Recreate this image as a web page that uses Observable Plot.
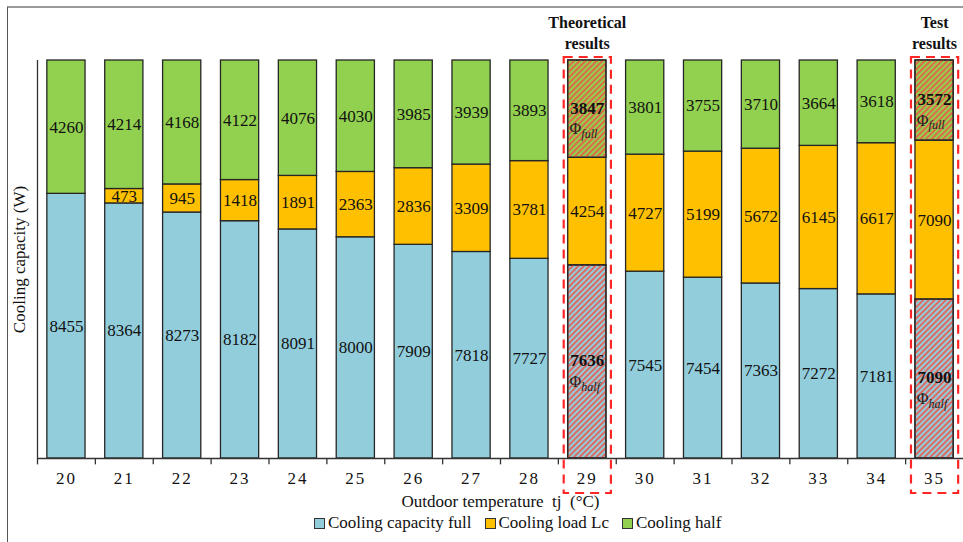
<!DOCTYPE html>
<html>
<head>
<meta charset="utf-8">
<script src="https://cdn.jsdelivr.net/npm/d3@7"></script>
<script src="https://cdn.jsdelivr.net/npm/@observablehq/plot@0.6"></script>
<style>
  html, body { margin: 0; padding: 0; background: #fff; }
  #wrap { position: relative; width: 963px; height: 542px; overflow: hidden; font-family: "Liberation Serif", "Times New Roman", serif; }
  #frame { position: absolute; left: 7px; top: 6px; right: -5px; bottom: -5px; border-top: 2px solid #9a9a9a; border-left: 1.5px solid #555; pointer-events: none; }
  #chart { position: absolute; left: 0; top: 0; }
  #chart svg text { font-family: "Liberation Serif", "Times New Roman", serif; }
  #chart svg g[aria-label="x-axis tick label"] text { letter-spacing: 2px; }
  #legend { position: absolute; left: 314px; top: 513px; display: flex; align-items: center; font-size: 17px; color: #111; white-space: nowrap; }
  #legend .sw { width: 9px; height: 9px; border: 1.2px solid #333; margin-right: 3px; }
  #legend .it { display: flex; align-items: center; margin-right: 13px; }
</style>
</head>
<body>
<div id="wrap">
  <div id="chart"></div>
  <div id="legend"></div>
  <div id="frame"></div>
</div>
<script>
// ---- data ----
const temps = [20, 21, 22, 23, 24, 25, 26, 27, 28, 29, 30, 31, 32, 33, 34, 35];
const capacityFull = [8455, 8364, 8273, 8182, 8091, 8000, 7909, 7818, 7727, 7636, 7545, 7454, 7363, 7272, 7181, 7090];
const coolingLoad  = [0, 473, 945, 1418, 1891, 2363, 2836, 3309, 3781, 4254, 4727, 5199, 5672, 6145, 6617, 7090];
const coolingHalf  = [4260, 4214, 4168, 4122, 4076, 4030, 3985, 3939, 3893, 3847, 3801, 3755, 3710, 3664, 3618, 3572];
const seriesNames = ["Cooling capacity full", "Cooling load Lc", "Cooling half"];
const seriesColors = ["#92CDDC", "#FFC000", "#92D050"];
const highlighted = [29, 35];
const highlightTitles = ["Theoretical\nresults", "Test\nresults"];
const phiSubs = {"Cooling capacity full": "half", "Cooling half": "full"};
const xTitle = "Outdoor temperature\u00A0\u00A0tj\u00A0\u00A0(°C)";
const yTitle = "Cooling capacity (W)";

const rows = temps.flatMap((t, i) => [
  {t, series: seriesNames[0], value: capacityFull[i]},
  {t, series: seriesNames[1], value: coolingLoad[i]},
  {t, series: seriesNames[2], value: coolingHalf[i]}
]);

const W = 963, H = 512, mL = 37, mR = 0, mT = 60, mB = 54;
const step = (W - mL - mR) / temps.length;
const isHi = d => highlighted.includes(d.t);
const isHatched = d => isHi(d) && d.series !== seriesNames[1];
const stackOpts = {offset: "normalize", x: "t", y: "value"};

const plot = Plot.plot({
  width: W, height: H,
  marginLeft: mL, marginRight: mR, marginTop: mT, marginBottom: mB,
  style: {fontFamily: "'Liberation Serif', 'Times New Roman', serif", fontSize: "17px", color: "#111", background: "transparent"},
  x: {type: "band", domain: temps, paddingInner: 0.34, paddingOuter: 0.17, round: false, axis: null},
  y: {domain: [0, 1], axis: null},
  color: {domain: seriesNames, range: seriesColors},
  marks: [
    Plot.barY(rows, Plot.stackY({...stackOpts, fill: "series", stroke: "#262626", strokeWidth: 1.3})),
    Plot.barY(rows, Plot.stackY({...stackOpts, fill: d => isHatched(d) ? "url(#hatch)" : "none", stroke: d => isHatched(d) ? "#262626" : "none", strokeWidth: 1.3})),
    // normal labels
    Plot.text(rows, Plot.stackY({...stackOpts, text: d => (d.value > 0 && !isHatched(d)) ? String(d.value) : "", fill: "#111"})),
    // bold labels for highlighted bars
    Plot.text(rows, Plot.stackY({...stackOpts, text: d => isHatched(d) ? String(d.value) : "", fontWeight: "bold", fill: "#111", dy: -1})),
    Plot.text(rows, Plot.stackY({...stackOpts, text: d => isHatched(d) ? "Φ" : "", fill: "#222", fontSize: 16, textAnchor: "end", dx: -6, dy: 20})),
    Plot.text(rows, Plot.stackY({...stackOpts, text: d => isHatched(d) ? phiSubs[d.series] : "", fill: "#222", fontSize: 12, fontStyle: "italic", textAnchor: "start", dx: -6, dy: 25})),
    // axes
    Plot.ruleY([0], {stroke: "#333", strokeWidth: 1.3}),
    Plot.ruleX([temps[0]], {x: d => d, y1: 0, y2: 1, dx: -step / 2, stroke: "#333", strokeWidth: 1.3}),
    Plot.ruleX(temps, {x: d => d, y1: 0, y2: -0.016, dx: -step / 2, stroke: "#333", strokeWidth: 1.3}),
    Plot.axisX({tickSize: 0, tickPadding: 13, label: null, fontSize: 17}),
    Plot.text([xTitle], {frameAnchor: "bottom", dy: 48, fontSize: 17, fill: "#111"}),
    Plot.text([yTitle], {frameAnchor: "left", rotate: -90, textAnchor: "middle", dx: -18, fontSize: 17, fill: "#111"}),
    // highlight annotations
    Plot.barY(highlighted, {x: d => d, y1: -0.088, y2: 1.0075, fill: "none", stroke: "#FF2626", strokeWidth: 2.2, strokeDasharray: "9,6", insetLeft: -4, insetRight: -5}),
    Plot.text(highlighted, {x: d => d, text: (d, i) => highlightTitles[i], frameAnchor: "top", dy: -29, lineAnchor: "middle", lineHeight: 1.35, fontWeight: "bold", fontSize: 16, fill: "#111"})
  ]
});

// hatch pattern definition
const defs = d3.select(plot).insert("defs", ":first-child");
const pat = defs.append("pattern")
  .attr("id", "hatch")
  .attr("patternUnits", "userSpaceOnUse")
  .attr("width", 4).attr("height", 4)
  .attr("patternTransform", "rotate(45)");
pat.append("line").attr("x1", 1).attr("y1", 0).attr("x2", 1).attr("y2", 4)
  .attr("stroke", "#EE5346").attr("stroke-width", 1.8).attr("stroke-opacity", 0.9);

document.getElementById("chart").appendChild(plot);

// legend
const leg = d3.select("#legend");
seriesNames.forEach((n, i) => {
  const it = leg.append("div").attr("class", "it");
  it.append("div").attr("class", "sw").style("background", seriesColors[i]);
  it.append("span").text(n);
});
</script>
</body>
</html>
